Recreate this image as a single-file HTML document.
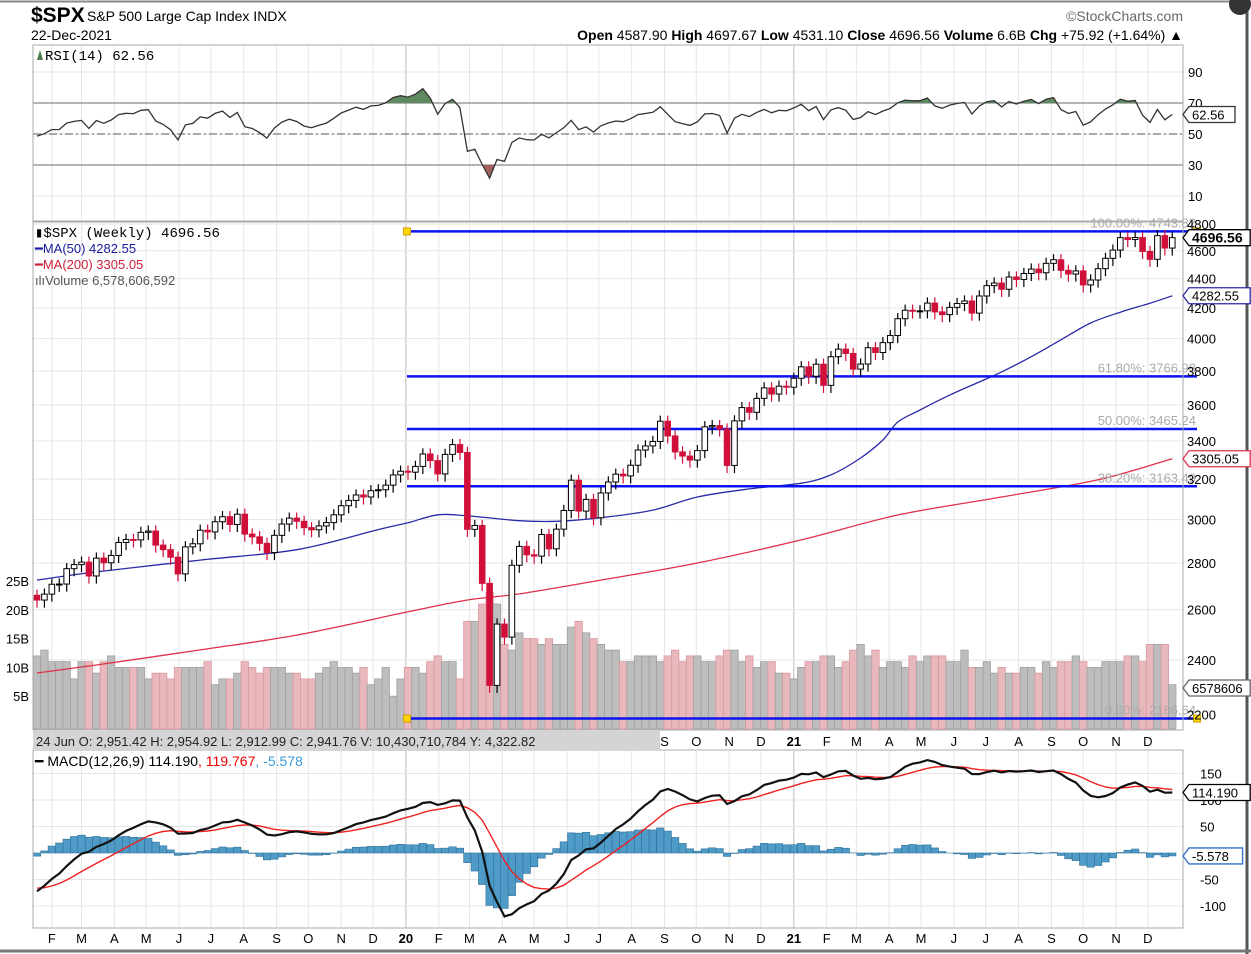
<!DOCTYPE html>
<html><head><meta charset="utf-8">
<style>
body{margin:0;background:#fff;}
svg{display:block;font-family:"Liberation Sans",sans-serif;}
</style></head>
<body>
<svg id="c" width="1251" height="954" viewBox="0 0 1251 954" xmlns="http://www.w3.org/2000/svg">
<rect x="0" y="0" width="1251" height="954" fill="#fff"/>
<line x1="0" y1="1.5" x2="1240" y2="1.5" stroke="#888" stroke-width="2"/>
<line x1="1247" y1="0" x2="1247" y2="954" stroke="#555" stroke-width="3"/>
<line x1="0" y1="951" x2="1251" y2="951" stroke="#777" stroke-width="3"/>
<circle cx="1240" cy="4" r="11" fill="#333"/>
<text x="31" y="22" font-size="21" font-weight="bold">$SPX</text>
<text x="87" y="21" font-size="14">S&amp;P 500 Large Cap Index  INDX</text>
<text x="31" y="40" font-size="14">22-Dec-2021</text>
<text x="1183" y="21" font-size="14" fill="#666" text-anchor="end">©StockCharts.com</text>
<text x="1183" y="40" font-size="14" text-anchor="end"><tspan font-weight="bold">Open</tspan> 4587.90 <tspan font-weight="bold">High</tspan> 4697.67 <tspan font-weight="bold">Low</tspan> 4531.10 <tspan font-weight="bold">Close</tspan> 4696.56 <tspan font-weight="bold">Volume</tspan> 6.6B <tspan font-weight="bold">Chg</tspan> +75.92 (+1.64%) ▲</text>
<g id="grid"></g>
<g id="layers"></g>
<rect x="33" y="45" width="1150" height="176" fill="none" stroke="#aaa"/>
<rect x="33" y="222" width="1150" height="508" fill="none" stroke="#aaa"/>
<rect x="33" y="750" width="1150" height="178" fill="none" stroke="#aaa"/>
<rect x="33" y="731" width="627" height="19" fill="#d4d4d4"/>
<text x="36" y="746" font-size="13" fill="#222">24 Jun O: 2,951.42   H: 2,954.92   L: 2,912.99   C: 2,941.76   V: 10,430,710,784   Y: 4,322.82</text>
<g id="labels"></g>
<g>
<path d="M37 60 L40 50 L43 60 Z" fill="#4a7a4a"/>
<text x="45" y="60" font-size="14" font-family="Liberation Mono, monospace">RSI(14) 62.56</text></g>
<g font-size="13">
<text x="35" y="237" font-family="Liberation Mono, monospace" font-size="14">▮$SPX (Weekly) 4696.56</text>
<text x="35" y="253" fill="#1a1aa0">━MA(50) 4282.55</text>
<text x="35" y="269" fill="#d0203a">━MA(200) 3305.05</text>
<text x="35" y="285" fill="#555">ılıVolume 6,578,606,592</text></g>
<text x="35" y="766" font-size="14">━ MACD(12,26,9) 114.190<tspan fill="#e00">, 119.767</tspan><tspan fill="#3a9ad9">, -5.578</tspan></text>
</svg>
<script>
const warmup=[2801,2802,2818,2840,2833,2850,2874,2901,2872,2905,2930,2913,2885,2767,2768,2658,2718,2723,2781,2736,2632,2737,2633,2600,2416,2351,2486,2532,2596];
const closes=[2640,2665,2707,2708,2775,2793,2804,2743,2822,2801,2834,2893,2907,2905,2940,2946,2881,2860,2826,2752,2873,2887,2950,2942,2990,3014,2977,3026,2932,2919,2889,2847,2926,2979,3007,2992,2962,2952,2970,2986,3023,3067,3093,3120,3110,3141,3146,3169,3221,3240,
3235,3265,3330,3295,3226,3328,3380,3338,2954,2972,2711,2305,2541,2489,2790,2875,2837,2831,2930,2864,2955,3044,3194,3041,3098,3009,3130,3185,3225,3216,3271,3351,3373,3397,3508,3427,3341,3319,3298,3348,3477,3484,3465,3270,3510,3585,3558,3638,3699,3663,3709,3703,3756,
3825,3768,3841,3714,3887,3934,3907,3811,3842,3943,3913,3975,4020,4129,4185,4180,4181,4233,4174,4156,4204,4230,4247,4166,4281,4352,4370,4327,4412,4395,4437,4468,4442,4509,4535,4459,4433,4455,4357,4391,4471,4545,4605,4697,4683,4698,4595,4538,4712,4620,4697];
const volumes=[12,13,11,11,11,8,11,11,9,11,12,10,10,10,10,8,9,9,8,10,10,10,10,11,7,8,8,9,11,10,9,10,10,10,9,9,8,8,9,10,11,10,10,9,10,7,8,10,5,8,
10,10,9,11,12,11,11,8,18,18,21,23,21,14,13,16,15,15,14,15,14,14,17,18,16,15,14,13,13,11,11,12,12,12,11,12,13,11,12,12,11,11,12,13,13,11,12,10,11,11,9,9,8,
10,11,11,12,12,10,11,13,14,12,13,10,11,11,10,12,11,12,12,12,11,11,13,10,10,11,9,10,9,9,10,10,9,11,10,11,11,12,11,10,10,11,11,11,12,12,11,14,14,14,7];
const ma50Weeks=[0,8,22,35,46,50,54,58,65,70,76,83,89,96,103,107,111,114,116,119,123,127,130,134,138,142,146,150,153];
const ma50Values=[2725,2761,2813,2860,2953,2985,3023,3018,2995,2992,3009,3046,3110,3150,3179,3221,3309,3405,3503,3571,3657,3734,3794,3887,3993,4101,4172,4232,4282];
const ma200Weeks=[0,8,22,35,50,58,65,76,89,103,116,130,143,153];
const ma200Values=[2351,2381,2439,2497,2591,2640,2666,2725,2800,2905,3022,3110,3196,3305];
const fibLevels=[4743.82,3766.98,3465.24,3163.49,2186.64];
const fibLabels=["100.00%: 4743.82","61.80%: 3766.98","50.00%: 3465.24","38.20%: 3163.49","0.00%: 2186.64"];
const priceTicks=[4800,4600,4400,4200,4000,3800,3600,3400,3200,3000,2800,2600,2400,2200];
const rsiTicks=[90,70,50,30,10];
const macdTicks=[150,100,50,-50,-100];
const volTicks=[25,20,15,10,5];
const fibStartWeek=50;

const NS="http://www.w3.org/2000/svg";
const layers=document.getElementById('layers'), grid=document.getElementById('grid'), labels=document.getElementById('labels');
function mk(tag,attrs,parent){const e=document.createElementNS(NS,tag);for(const k in attrs)e.setAttribute(k,attrs[k]);(parent||layers).appendChild(e);return e;}
const X0=37,DX=7.42,L=33,R=1183;
const xAt=i=>X0+i*DX;
const yP=p=>224+629*Math.log(4800/p);
const yR=v=>134-(v-50)*1.55;
const yM=v=>853-v*0.53;
const yV=b=>725-b*5.76;

const start=new Date(2019,0,18);
const mnames="JFMAMJJASOND";
for(let y=2019;y<=2021;y++)for(let m=0;m<12;m++){
  const d=new Date(y,m,1);const idx=(d-start)/864e5/7;const x=xAt(idx);
  if(x<L||x>R)continue;
  for(const [a,b] of [[46,220],[223,730],[751,928]]){
    const g=mk('line',{x1:x,y1:a,x2:x,y2:b,stroke:m==0?'#bbb':'#e6e6e6','stroke-width':1},grid);
    
    
  }
  const txt=m==0?String(y%100):mnames[m];
  const t=mk('text',{x:x,y:943,'font-size':13,'text-anchor':'middle','font-weight':m==0?'bold':'normal'},labels);
  t.textContent=txt;
  
  
  if(x>662){const t2=mk('text',{x:x,y:746,'font-size':13,'text-anchor':'middle','font-weight':m==0?'bold':'normal'},labels);
    t2.textContent=txt;
    
    }
}
priceTicks.forEach(p=>{const y=yP(p);
  const g=mk('line',{x1:L,y1:y,x2:R,y2:y,stroke:'#e6e6e6'},grid);
  
  
  const t=mk('text',{x:1187,y:y+5,'font-size':13},labels);t.textContent=p;
  
  });
volTicks.forEach(v=>{const y=yV(v);
  const t=mk('text',{x:29,y:y+5,'font-size':13,'text-anchor':'end'},labels);t.textContent=v+'B';
  
  });
rsiTicks.forEach(v=>{const y=yR(v);
  const g=mk('line',{x1:L,y1:y,x2:R,y2:y,stroke:'#e6e6e6'},grid);
  
  
  const t=mk('text',{x:1188,y:y+5,'font-size':13},labels);t.textContent=v;
  
  });
macdTicks.forEach(v=>{const y=yM(v);
  const g=mk('line',{x1:L,y1:y,x2:R,y2:y,stroke:'#e6e6e6'},grid);
  
  
  const t=mk('text',{x:1200,y:y+5,'font-size':13},labels);t.textContent=v;
  
  });

const all=warmup.concat(closes), W=warmup.length;
let ag=0,al=0;const rsi=[];
for(let i=1;i<all.length;i++){const ch=all[i]-all[i-1];const g=Math.max(ch,0),l=Math.max(-ch,0);
  if(i<=14){ag+=g/14;al+=l/14;}else{ag=(ag*13+g)/14;al=(al*13+l)/14;}
  rsi[i]=100-100/(1+ag/(al||1e-9));}
let e12=all[0],e26=all[0],sig=0;const macd=[],sg=[];
for(let i=0;i<all.length;i++){e12=e12+(all[i]-e12)*2/13;e26=e26+(all[i]-e26)*2/27;const m=e12-e26;sig=i==0?m:sig+(m-sig)*0.2;macd[i]=m;sg[i]=sig;}

[[70,'#888',''],[30,'#888',''],[50,'#777','8 3 2 3']].forEach(([v,c,d])=>{
  const l=mk('line',{x1:L,y1:yR(v),x2:R,y2:yR(v),stroke:c,'stroke-width':1.2,'stroke-dasharray':d});
  
  });
let rp='';closes.forEach((c,i)=>{rp+=(i?'L':'M')+xAt(i).toFixed(1)+' '+yR(rsi[i+W]).toFixed(1);});
const clipA=mk('clipPath',{id:'ca'});mk('rect',{x:L,y:46,width:1150,height:yR(70)-46},clipA);
const clipB=mk('clipPath',{id:'cb'});mk('rect',{x:L,y:yR(30),width:1150,height:220-yR(30)},clipB);
const fa=mk('path',{d:rp+'L'+xAt(closes.length-1)+' '+yR(70)+'L'+X0+' '+yR(70)+'Z',fill:'#5f8a5f','clip-path':'url(#ca)'});


const fb=mk('path',{d:rp+'L'+xAt(closes.length-1)+' '+yR(30)+'L'+X0+' '+yR(30)+'Z',fill:'#a06060','clip-path':'url(#cb)'});


const rl=mk('path',{d:rp,fill:'none',stroke:'#333','stroke-width':1.3});



volumes.forEach((v,i)=>{const up=i==0?true:closes[i]>=closes[i-1];
  const b=mk('rect',{x:xAt(i)-DX/2,y:yV(v),width:DX,height:725-yV(v)+4,fill:up?'#bdbdbd':'#e9b8bd',stroke:up?'#a0a0a0':'#d89aa0','stroke-width':0.8});
  
  });
function poly(ws,vs){
  const pts=ws.map((w,k)=>[xAt(w),yP(vs[k])]);
  let d='M'+pts[0][0].toFixed(1)+' '+pts[0][1].toFixed(1);
  for(let k=0;k<pts.length-1;k++){
    const p0=pts[Math.max(0,k-1)],p1=pts[k],p2=pts[k+1],p3=pts[Math.min(pts.length-1,k+2)];
    const c1=[p1[0]+(p2[0]-p0[0])/6,p1[1]+(p2[1]-p0[1])/6],c2=[p2[0]-(p3[0]-p1[0])/6,p2[1]-(p3[1]-p1[1])/6];
    d+='C'+c1.map(v=>v.toFixed(1)).join(' ')+' '+c2.map(v=>v.toFixed(1)).join(' ')+' '+p2[0].toFixed(1)+' '+p2[1].toFixed(1);
  }
  return d;}
const m50=mk('path',{d:poly(ma50Weeks,ma50Values),fill:'none',stroke:'#2a2aa8','stroke-width':1.3});


const m200=mk('path',{d:poly(ma200Weeks,ma200Values),fill:'none',stroke:'#e0304a','stroke-width':1.3});


fibLevels.forEach((f,k)=>{const y=yP(f);
  const l=mk('line',{x1:xAt(fibStartWeek)-1,y1:y,x2:1197,y2:y,stroke:'#0a14f0','stroke-width':2.5});
  
  
  const t=mk('text',{x:1196,y:y-4,'font-size':13,fill:'#aaa','text-anchor':'end'});t.textContent=fibLabels[k];
  
  
  if(k==0||k==4){[xAt(fibStartWeek)-1,1197].forEach(x=>{const h=mk('rect',{x:x-3.5,y:y-3.5,width:7,height:7,fill:'#ffd800',stroke:'#d0a000'});
    
    });}
});
closes.forEach((c,i)=>{const o=i==0?2660:closes[i-1];const x=xAt(i);
  const hi=Math.max(o,c)*1.009,lo=Math.min(o,c)*0.988;const up=c>=o;
  const w=mk('line',{x1:x,y1:yP(hi),x2:x,y2:yP(lo),stroke:up?'#000':'#d0103a','stroke-width':1.2});
  
  
  const top=yP(Math.max(o,c)),bot=yP(Math.min(o,c));
  const b=mk('rect',{x:x-2.8,y:top,width:5.6,height:Math.max(1,bot-top),fill:up?'#fff':'#d0103a',stroke:up?'#000':'#d0103a','stroke-width':1});
  
  });

const hz=yM(0);
closes.forEach((c,i)=>{const h=macd[i+W]-sg[i+W];const y=yM(h);
  const b=mk('rect',{x:xAt(i)-DX/2,y:Math.min(y,hz),width:DX,height:Math.abs(y-hz),fill:'#4f9bc8',stroke:'#2f6f98','stroke-width':0.6});
  
  });
let mp='',sp='';closes.forEach((c,i)=>{mp+=(i?'L':'M')+xAt(i).toFixed(1)+' '+yM(macd[i+W]).toFixed(1);sp+=(i?'L':'M')+xAt(i).toFixed(1)+' '+yM(sg[i+W]).toFixed(1);});
const sl=mk('path',{d:sp,fill:'none',stroke:'#f02020','stroke-width':1.4});


const ml=mk('path',{d:mp,fill:'none',stroke:'#111','stroke-width':2.2});



function tag(y,text,color,bold,name){
  const g=mk('g',{},labels);
  
  
  const w=text.length*7.6+8;
  mk('path',{d:`M1183 ${y} L1189 ${y-8} L${1189+w} ${y-8} L${1189+w} ${y+8} L1189 ${y+8} Z`,fill:'#fff',stroke:color,'stroke-width':1.3},g);
  const t=mk('text',{x:1192,y:y+5,'font-size':bold?14:13,'font-weight':bold?'bold':'normal',fill:'#000'},g);t.textContent=text;
}
tag(yR(62.56),'62.56','#333',false,'rsi-value-tag');
tag(yP(4696.56),'4696.56','#000',true,'price-value-tag');
tag(yP(4282.55),'4282.55','#2a2aa8',false,'ma50-value-tag');
tag(yP(3305.05),'3305.05','#e0304a',false,'ma200-value-tag');
tag(688,'6578606','#666',false,'volume-value-tag');
tag(yM(114.19),'114.190','#000',false,'macd-value-tag');
tag(yM(-5.578),'-5.578','#2f6fc8',false,'histogram-value-tag');
</script>
</body></html>
